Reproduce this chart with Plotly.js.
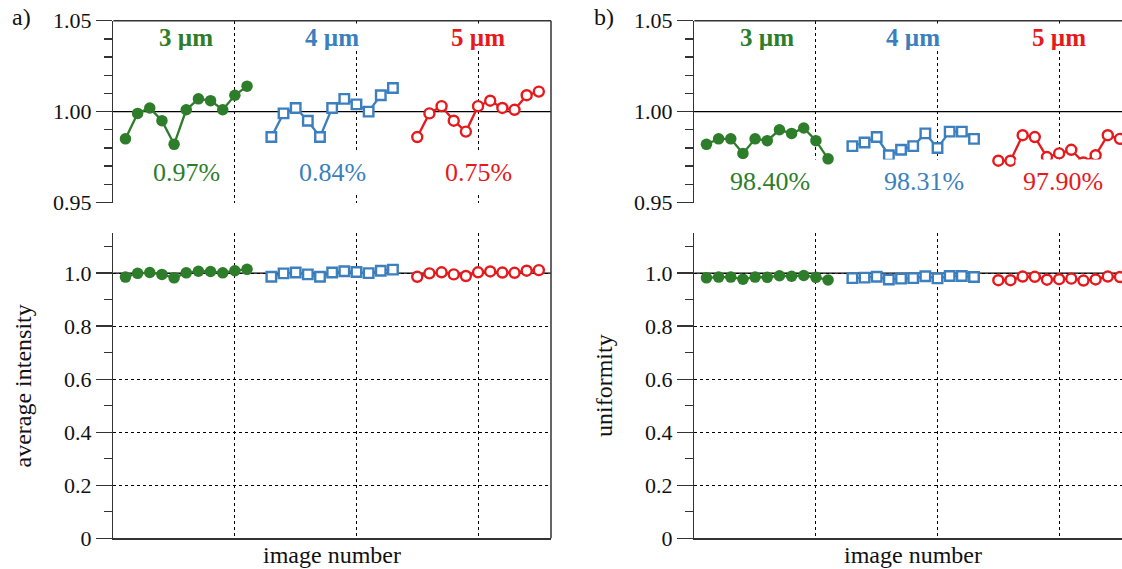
<!DOCTYPE html>
<html>
<head>
<meta charset="utf-8">
<script src="https://cdn.plot.ly/plotly-3.0.1.min.js"></script>
<style>html,body{margin:0;padding:0;background:#fff;}#chart{width:1122px;height:569px;}</style>
</head>
<body>
<div id="chart"></div>
<script>
// ---------- data ----------
const imgGreen = [0, 1, 2, 3, 4, 5, 6, 7, 8, 9, 10];
const imgBlue  = [12, 13, 14, 15, 16, 17, 18, 19, 20, 21, 22];
const imgRed   = [24, 25, 26, 27, 28, 29, 30, 31, 32, 33, 34];

const avgGreen = [0.985, 0.999, 1.002, 0.995, 0.982, 1.001, 1.007, 1.006, 1.001, 1.009, 1.014];
const avgBlue  = [0.986, 0.999, 1.002, 0.995, 0.986, 1.002, 1.007, 1.004, 1.000, 1.009, 1.013];
const avgRed   = [0.986, 0.999, 1.003, 0.995, 0.989, 1.003, 1.006, 1.002, 1.001, 1.009, 1.011];

const uniGreen = [0.982, 0.985, 0.985, 0.977, 0.985, 0.984, 0.990, 0.988, 0.991, 0.984, 0.974];
const uniBlue  = [0.981, 0.983, 0.986, 0.976, 0.979, 0.981, 0.988, 0.980, 0.989, 0.989, 0.985];
const uniRed   = [0.973, 0.973, 0.987, 0.986, 0.975, 0.977, 0.979, 0.972, 0.976, 0.987, 0.985];

const groupLabels = ['3 µm', '4 µm', '5 µm'];
const avgPct = ['0.97%', '0.84%', '0.75%'];
const uniPct = ['98.40%', '98.31%', '97.90%'];

const zoomTickVals = [0.95, 1.00, 1.05];
const zoomTickText = ['0.95', '1.00', '1.05'];
const fullTickVals = [0, 0.2, 0.4, 0.6, 0.8, 1.0];
const fullTickText = ['0', '0.2', '0.4', '0.6', '0.8', '1.0'];

// ---------- styling ----------
const W = 1122, H = 569;
const px = v => v / W;
const py = v => (H - v) / H;
const SERIF = "'Liberation Serif', 'Times New Roman', Times, serif";
const GREEN = '#2e7d2a', BLUE = '#3b7fbe', RED = '#e6191c';
const AX = '#333';

const xDomA = [px(113.3), px(551)];
const xDomB = [px(694.3), 1];
const yDomTop = [py(202.5), py(20.7)];
const yDomBot = [py(538.3), py(233.3)];

function series(xs, ys, color, kind, xa, ya) {
  const m = {color: color, size: 11.5, line: {width: 0}};
  if (kind === 'square') { m.symbol = 'square'; m.color = '#fff'; m.size = 9.5; m.line = {color: color, width: 2.4}; }
  if (kind === 'open') { m.symbol = 'circle'; m.color = '#fff'; m.size = 10; m.line = {color: color, width: 2.4}; }
  return {x: xs, y: ys, xaxis: xa, yaxis: ya, type: 'scatter', mode: 'lines+markers',
          line: {color: color, width: 2.3}, marker: m, showlegend: false, hoverinfo: 'skip'};
}

const traces = [];
[['x', 'y', avgGreen, avgBlue, avgRed], ['x2', 'y2', avgGreen, avgBlue, avgRed],
 ['x3', 'y3', uniGreen, uniBlue, uniRed], ['x4', 'y4', uniGreen, uniBlue, uniRed]].forEach(d => {
  traces.push(series(imgGreen, d[2], GREEN, 'filled', d[0], d[1]));
  traces.push(series(imgBlue, d[3], BLUE, 'square', d[0], d[1]));
  traces.push(series(imgRed, d[4], RED, 'open', d[0], d[1]));
});

function xAx(dom, anchor, range, showline) {
  return {domain: dom, anchor: anchor, range: range, tick0: -1, dtick: 10,
          showgrid: true, gridcolor: '#000', gridwidth: 1, griddash: '3px,3px',
          showticklabels: false, ticks: '', zeroline: false,
          showline: showline, linecolor: AX, linewidth: 1.5, fixedrange: true};
}
function yAx(dom, anchor, range, tv, tt, minorStep) {
  return {domain: dom, anchor: anchor, range: range, tickmode: 'array', tickvals: tv, ticktext: tt,
          ticks: 'outside', ticklen: 16, tickwidth: 1.3, tickcolor: AX,
          minor: {dtick: minorStep, tick0: range[0], ticks: 'outside', ticklen: 8, tickwidth: 1.3, tickcolor: AX, showgrid: false},
          tickfont: {family: SERIF, size: 22, color: '#111'},
          showgrid: true, gridcolor: '#000', gridwidth: 1, griddash: '3px,3px',
          zeroline: false, showline: true, linecolor: AX, linewidth: 1.5, fixedrange: true};
}

const rangeA = [-1, 35];
const rangeB = [-1, 34.17];

const layout = {
  width: W, height: H, margin: {l: 0, r: 0, t: 0, b: 0},
  paper_bgcolor: '#fff', plot_bgcolor: 'rgba(0,0,0,0)',
  showlegend: false,
  font: {family: SERIF},
  xaxis: xAx(xDomA, 'y', rangeA, false),
  yaxis: yAx(yDomTop, 'x', [0.95, 1.05], zoomTickVals, zoomTickText, 0.01),
  xaxis2: xAx(xDomA, 'y2', rangeA, true),
  yaxis2: yAx(yDomBot, 'x2', [0, 1.15], fullTickVals, fullTickText, 0.1),
  xaxis3: xAx(xDomB, 'y3', rangeB, false),
  yaxis3: yAx(yDomTop, 'x3', [0.95, 1.05], zoomTickVals, zoomTickText, 0.01),
  xaxis4: xAx(xDomB, 'y4', rangeB, true),
  yaxis4: yAx(yDomBot, 'x4', [0, 1.15], fullTickVals, fullTickText, 0.1),
  shapes: [],
  annotations: []
};

// reference lines at 1.0 and top frame lines
[['x', 'y'], ['x2', 'y2'], ['x3', 'y3'], ['x4', 'y4']].forEach(p => {
  layout.shapes.push({type: 'line', layer: 'below', xref: p[0] + ' domain', yref: p[1],
    x0: 0, x1: 1, y0: 1, y1: 1, line: {color: '#000', width: 1.3}});
});
[['x', 'y'], ['x3', 'y3']].forEach(p => {
  layout.shapes.push({type: 'line', layer: 'above', xref: p[0] + ' domain', yref: p[1] + ' domain',
    x0: 0, x1: 1, y0: 1, y1: 1, line: {color: AX, width: 1.5}});
});
// right frame of panel a (continuous)
layout.shapes.push({type: 'line', layer: 'above', xref: 'paper', yref: 'paper',
  x0: xDomA[1], x1: xDomA[1], y0: yDomBot[0], y1: yDomTop[1], line: {color: AX, width: 1.5}});

// group labels and percentages
const groups = [imgGreen, imgBlue, imgRed];
const colors = [GREEN, BLUE, RED];
const mid = a => (a[0] + a[a.length - 1]) / 2;
[['x', 'y', avgPct, [0, 0, 0]], ['x3', 'y3', uniPct, [0.2, 0.9, 0.3]]].forEach(p => {
  groups.forEach((g, i) => {
    layout.annotations.push({xref: p[0], yref: p[1], x: mid(g), y: 1.0411, text: '<b>' + groupLabels[i] + '</b>',
      showarrow: false, bgcolor: '#fff', borderpad: 0, height: 26,
      font: {family: SERIF, size: 25, color: colors[i]}});
    layout.annotations.push({xref: p[0], yref: p[1], x: mid(g) + p[3][i], y: p[1] === 'y' ? 0.9667 : 0.9615, text: p[2][i],
      showarrow: false, bgcolor: '#fff', borderpad: 7,
      font: {family: SERIF, size: 26, color: colors[i]}});
  });
});

// panel letters and axis titles
const txt = (x, y, t, ang, size) => ({xref: 'paper', yref: 'paper', x: px(x), y: py(y), text: t,
  textangle: ang || 0, showarrow: false, xanchor: 'center', yanchor: 'middle',
  font: {family: SERIF, size: size || 24, color: '#111'}});
layout.annotations.push(txt(21, 17, 'a)', 0, 24));
layout.annotations.push(txt(604, 17, 'b)', 0, 24));
layout.annotations.push(txt(22, 386.5, 'average intensity', -90));
layout.annotations.push(txt(604, 386, 'uniformity', -90));
layout.annotations.push(txt(332, 555, 'image number'));
layout.annotations.push(txt(913, 555, 'image number'));

Plotly.newPlot('chart', traces, layout, {staticPlot: true});
</script>
</body>
</html>
